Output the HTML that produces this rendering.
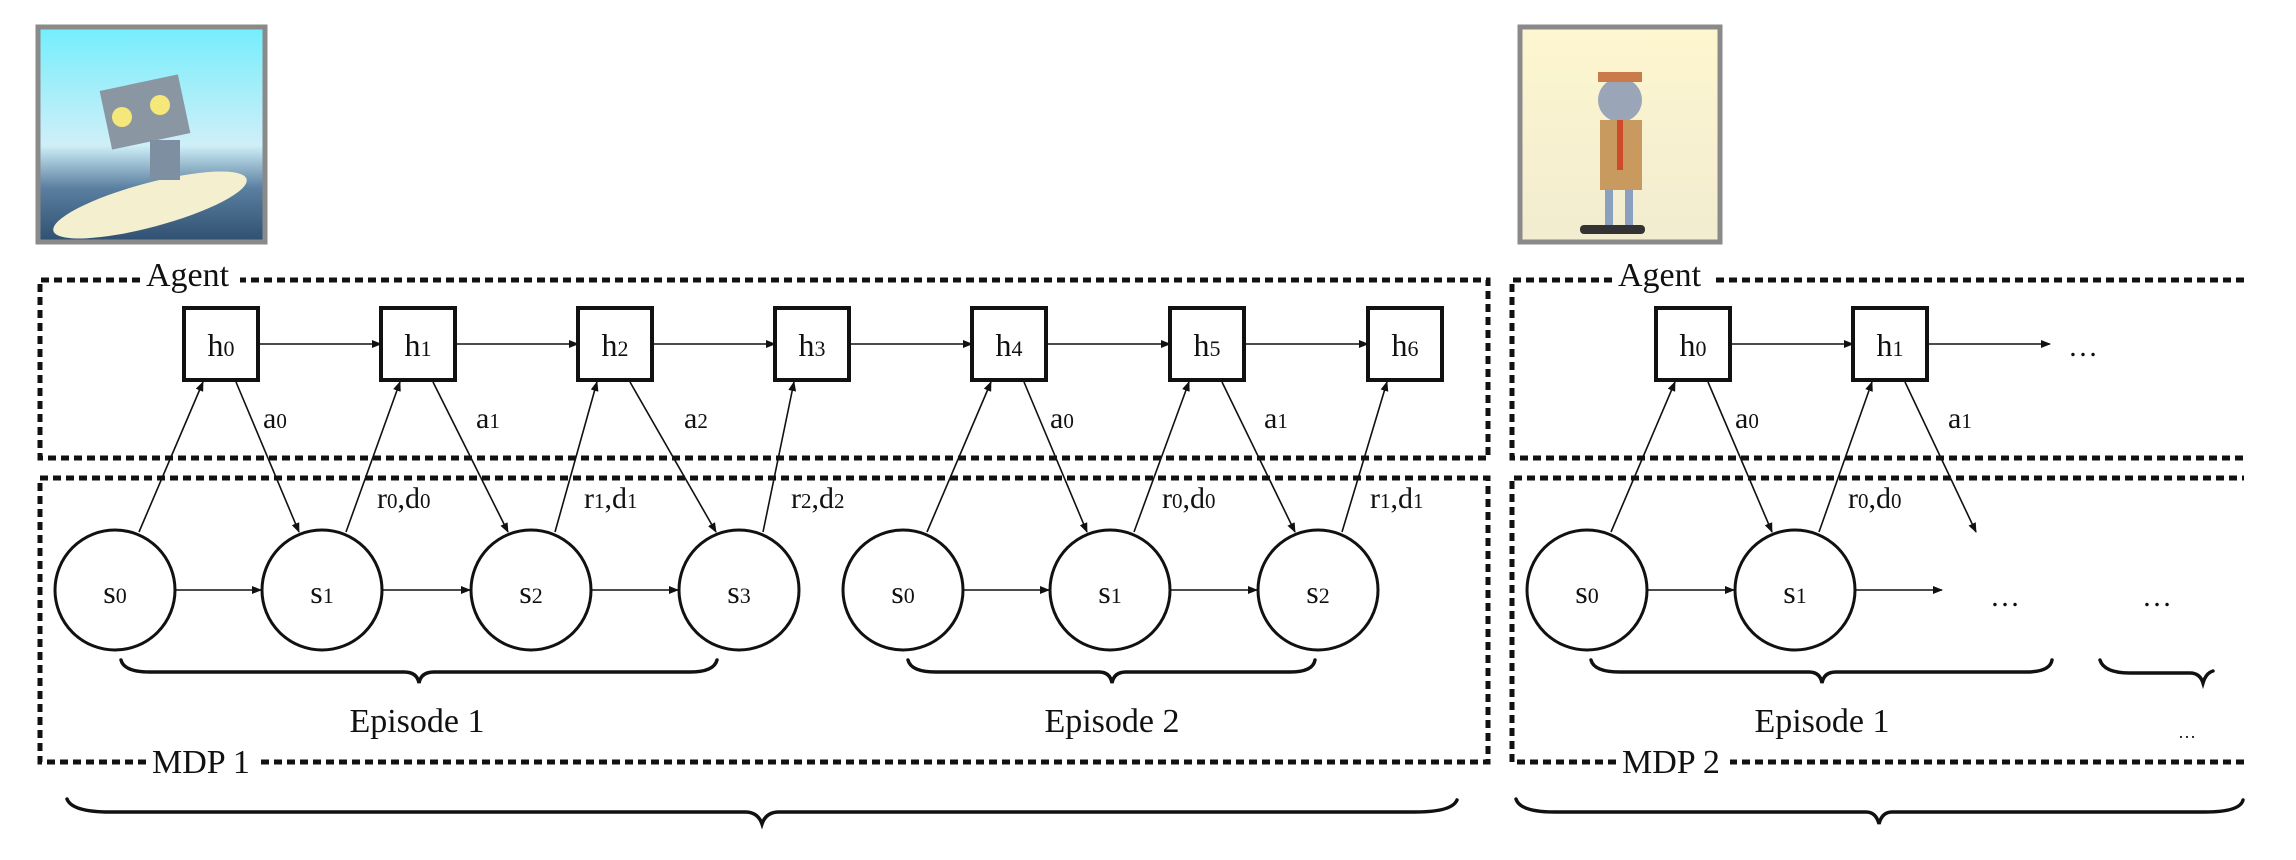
<!DOCTYPE html>
<html><head><meta charset="utf-8"><style>
html,body{margin:0;padding:0;background:#fff;}
svg{display:block;}
text{font-family:"Liberation Serif",serif;fill:#111;}
</style></head><body>
<svg width="2296" height="860" viewBox="0 0 2296 860" xmlns="http://www.w3.org/2000/svg">
<defs>
<marker id="ar" markerWidth="10" markerHeight="8" refX="9" refY="4" orient="auto" markerUnits="userSpaceOnUse">
<path d="M0,0 L10,4 L0,8 Z" fill="#111"/></marker>
<linearGradient id="sky" x1="0" y1="0" x2="0" y2="1">
<stop offset="0" stop-color="#74eefc"/><stop offset="0.55" stop-color="#cfeff8"/><stop offset="0.75" stop-color="#5a7fa0"/><stop offset="1" stop-color="#2f4f70"/></linearGradient>
<linearGradient id="cream" x1="0" y1="0" x2="0" y2="1">
<stop offset="0" stop-color="#fdf6cf"/><stop offset="1" stop-color="#f2ecd0"/></linearGradient>
</defs>

<!-- picture 1 -->
<rect x="38" y="27" width="227" height="215" fill="url(#sky)" stroke="#8a8a8a" stroke-width="5"/>
<ellipse cx="150" cy="205" rx="100" ry="22" fill="#f4efcf" transform="rotate(-15 150 205)"/>
<rect x="105" y="82" width="80" height="60" fill="#8a97a3" transform="rotate(-12 145 112)"/>
<circle cx="122" cy="117" r="10" fill="#f5e77a"/><circle cx="160" cy="105" r="10" fill="#f5e77a"/>
<rect x="150" y="140" width="30" height="40" fill="#7d8fa0"/>
<!-- picture 2 -->
<rect x="1520" y="27" width="200" height="215" fill="url(#cream)" stroke="#8a8a8a" stroke-width="5"/>
<circle cx="1620" cy="100" r="22" fill="#9aa6b8"/>
<rect x="1598" y="72" width="44" height="10" fill="#c97c4a"/>
<rect x="1600" y="120" width="42" height="70" fill="#c99a60"/>
<rect x="1617" y="120" width="6" height="50" fill="#d04a2a"/>
<rect x="1605" y="190" width="8" height="35" fill="#8aa0c0"/><rect x="1625" y="190" width="8" height="35" fill="#8aa0c0"/>
<rect x="1580" y="225" width="65" height="9" rx="4" fill="#333"/>

<!-- dashed boxes -->
<g fill="none" stroke="#111" stroke-width="5" stroke-dasharray="8,5">
<path d="M140,280 L40,280 L40,458 L1488,458 L1488,280 L240,280"/>
<path d="M146,762 L40,762 L40,478 L1488,478 L1488,762 L258,762"/>
<path d="M1612,280 L1512,280 L1512,458 L2244,458"/>
<path d="M2244,280 L1714,280"/>
<path d="M1616,762 L1512,762 L1512,478 L2244,478"/>
<path d="M2244,762 L1730,762"/>
</g>
<g font-size="34">
<text x="146" y="286">Agent</text>
<text x="1618" y="286">Agent</text>
<text x="152" y="773">MDP 1</text>
<text x="1622" y="773">MDP 2</text>
<text x="417" y="732" text-anchor="middle">Episode 1</text>
<text x="1112" y="732" text-anchor="middle">Episode 2</text>
<text x="1822" y="732" text-anchor="middle">Episode 1</text>
</g>

<!-- h boxes -->
<g fill="#fff" stroke="#111" stroke-width="4">
<rect x="184" y="308" width="74" height="72"/>
<rect x="381" y="308" width="74" height="72"/>
<rect x="578" y="308" width="74" height="72"/>
<rect x="775" y="308" width="74" height="72"/>
<rect x="972" y="308" width="74" height="72"/>
<rect x="1170" y="308" width="74" height="72"/>
<rect x="1368" y="308" width="74" height="72"/>
<rect x="1656" y="308" width="74" height="72"/>
<rect x="1853" y="308" width="74" height="72"/>
</g>
<g font-size="32" text-anchor="middle">
<text x="221" y="356">h<tspan font-size="22">0</tspan></text>
<text x="418" y="356">h<tspan font-size="22">1</tspan></text>
<text x="615" y="356">h<tspan font-size="22">2</tspan></text>
<text x="812" y="356">h<tspan font-size="22">3</tspan></text>
<text x="1009" y="356">h<tspan font-size="22">4</tspan></text>
<text x="1207" y="356">h<tspan font-size="22">5</tspan></text>
<text x="1405" y="356">h<tspan font-size="22">6</tspan></text>
<text x="1693" y="356">h<tspan font-size="22">0</tspan></text>
<text x="1890" y="356">h<tspan font-size="22">1</tspan></text>
</g>

<!-- circles -->
<g fill="#fff" stroke="#111" stroke-width="3">
<ellipse cx="115" cy="590" rx="60" ry="60"/>
<ellipse cx="322" cy="590" rx="60" ry="60"/>
<ellipse cx="531" cy="590" rx="60" ry="60"/>
<ellipse cx="739" cy="590" rx="60" ry="60"/>
<ellipse cx="903" cy="590" rx="60" ry="60"/>
<ellipse cx="1110" cy="590" rx="60" ry="60"/>
<ellipse cx="1318" cy="590" rx="60" ry="60"/>
<ellipse cx="1587" cy="590" rx="60" ry="60"/>
<ellipse cx="1795" cy="590" rx="60" ry="60"/>
</g>
<g font-size="32" text-anchor="middle">
<text x="115" y="603">s<tspan font-size="22">0</tspan></text>
<text x="322" y="603">s<tspan font-size="22">1</tspan></text>
<text x="531" y="603">s<tspan font-size="22">2</tspan></text>
<text x="739" y="603">s<tspan font-size="22">3</tspan></text>
<text x="903" y="603">s<tspan font-size="22">0</tspan></text>
<text x="1110" y="603">s<tspan font-size="22">1</tspan></text>
<text x="1318" y="603">s<tspan font-size="22">2</tspan></text>
<text x="1587" y="603">s<tspan font-size="22">0</tspan></text>
<text x="1795" y="603">s<tspan font-size="22">1</tspan></text>
</g>

<!-- arrows -->
<g stroke="#111" stroke-width="1.6" fill="none" marker-end="url(#ar)">
<line x1="258" y1="344" x2="381" y2="344"/>
<line x1="455" y1="344" x2="578" y2="344"/>
<line x1="652" y1="344" x2="775" y2="344"/>
<line x1="849" y1="344" x2="972" y2="344"/>
<line x1="1046" y1="344" x2="1170" y2="344"/>
<line x1="1244" y1="344" x2="1368" y2="344"/>
<line x1="1730" y1="344" x2="1853" y2="344"/>
<line x1="1927" y1="344" x2="2050" y2="344"/>
<line x1="176" y1="590" x2="261" y2="590"/>
<line x1="383" y1="590" x2="470" y2="590"/>
<line x1="592" y1="590" x2="678" y2="590"/>
<line x1="964" y1="590" x2="1049" y2="590"/>
<line x1="1171" y1="590" x2="1257" y2="590"/>
<line x1="1648" y1="590" x2="1734" y2="590"/>
<line x1="1856" y1="590" x2="1942" y2="590"/>
<line x1="139" y1="532" x2="203" y2="382"/>
<line x1="346" y1="532" x2="400" y2="382"/>
<line x1="555" y1="532" x2="597" y2="382"/>
<line x1="763" y1="532" x2="794" y2="382"/>
<line x1="927" y1="532" x2="991" y2="382"/>
<line x1="1134" y1="532" x2="1189" y2="382"/>
<line x1="1342" y1="532" x2="1387" y2="382"/>
<line x1="1611" y1="532" x2="1675" y2="382"/>
<line x1="1819" y1="532" x2="1872" y2="382"/>
<line x1="236" y1="382" x2="299" y2="532"/>
<line x1="433" y1="382" x2="508" y2="532"/>
<line x1="630" y1="382" x2="716" y2="532"/>
<line x1="1024" y1="382" x2="1087" y2="532"/>
<line x1="1222" y1="382" x2="1295" y2="532"/>
<line x1="1708" y1="382" x2="1772" y2="532"/>
<line x1="1905" y1="382" x2="1976" y2="532"/>
</g>
<g font-size="30">
<text x="263" y="428">a<tspan font-size="21">0</tspan></text>
<text x="476" y="428">a<tspan font-size="21">1</tspan></text>
<text x="684" y="428">a<tspan font-size="21">2</tspan></text>
<text x="1050" y="428">a<tspan font-size="21">0</tspan></text>
<text x="1264" y="428">a<tspan font-size="21">1</tspan></text>
<text x="1735" y="428">a<tspan font-size="21">0</tspan></text>
<text x="1948" y="428">a<tspan font-size="21">1</tspan></text>
<text x="377" y="508">r<tspan font-size="21">0</tspan>,d<tspan font-size="21">0</tspan></text>
<text x="584" y="508">r<tspan font-size="21">1</tspan>,d<tspan font-size="21">1</tspan></text>
<text x="791" y="508">r<tspan font-size="21">2</tspan>,d<tspan font-size="21">2</tspan></text>
<text x="1162" y="508">r<tspan font-size="21">0</tspan>,d<tspan font-size="21">0</tspan></text>
<text x="1370" y="508">r<tspan font-size="21">1</tspan>,d<tspan font-size="21">1</tspan></text>
<text x="1848" y="508">r<tspan font-size="21">0</tspan>,d<tspan font-size="21">0</tspan></text>
<text x="2068" y="356">…</text>
<text x="1990" y="606">…</text>
<text x="2142" y="606">…</text>
<text x="2178" y="738" font-size="18">…</text>
</g>

<!-- braces -->
<g fill="none" stroke="#111" stroke-width="3.5" stroke-linecap="round">
<path d="M121,660 Q124,672 150,672 L404,672 Q417,672 419,683 Q421,672 434,672 L690,672 Q714,672 717,660"/>
<path d="M908,660 Q911,672 936,672 L1099,672 Q1110,672 1112,683 Q1114,672 1126,672 L1290,672 Q1313,672 1315,660"/>
<path d="M1591,660 Q1594,672 1620,672 L1809,672 Q1820,672 1822,683 Q1824,672 1836,672 L2026,672 Q2050,672 2052,660"/>
<path d="M2100,660 Q2104,673 2130,673 L2190,673 Q2200,673 2203,683 Q2206,673 2213,671"/>
<path d="M67,799 Q72,812 110,812 L745,812 Q758,812 762,824 Q766,812 779,812 L1415,812 Q1452,812 1457,800"/>
<path d="M1516,799 Q1520,812 1555,812 L1866,812 Q1876,812 1879,824 Q1882,812 1892,812 L2205,812 Q2240,812 2243,800"/>
</g>
</svg>
</body></html>
